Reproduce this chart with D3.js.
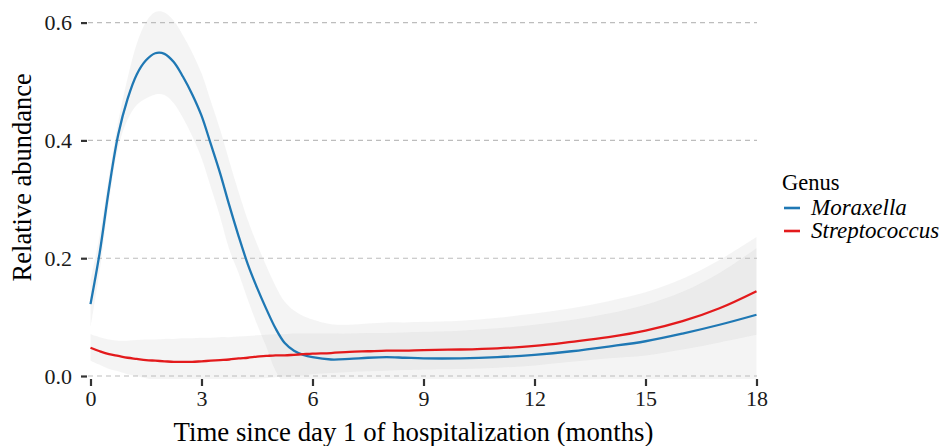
<!DOCTYPE html>
<html>
<head>
<meta charset="utf-8">
<script src="https://cdn.jsdelivr.net/npm/d3@7"></script>
<style>
  html, body { margin: 0; padding: 0; background: #fff; }
  svg { display: block; font-family: "Liberation Serif", "Times New Roman", serif; }
  svg text { font-family: "Liberation Serif", "Times New Roman", serif; }
</style>
</head>
<body>
<svg id="chart" width="942" height="446"></svg>
<script>
// ---- data ----
const months = [0,0.25,0.5,0.75,1,1.25,1.5,1.75,2,2.25,2.5,2.75,3,3.25,3.5,3.75,4,4.25,4.5,4.75,5,5.25,5.5,5.75,6,6.5,7,7.5,8,8.5,9,10,11,12,13,14,15,16,17,18];

const moraxellaFit = [0.122,0.21,0.318,0.41,0.47,0.512,0.536,0.548,0.547,0.533,0.508,0.478,0.442,0.394,0.345,0.29,0.238,0.19,0.15,0.114,0.081,0.056,0.043,0.036,0.032,0.028,0.029,0.031,0.032,0.031,0.030,0.030,0.032,0.036,0.042,0.050,0.059,0.072,0.087,0.104];
const moraxellaLow = [0.082,0.18,0.296,0.388,0.435,0.46,0.471,0.478,0.477,0.463,0.438,0.407,0.37,0.321,0.271,0.215,0.175,0.13,0.088,0.05,0.009,-0.014,-0.025,-0.03,-0.032,-0.032,-0.029,-0.027,-0.027,-0.029,-0.032,-0.034,-0.035,-0.034,-0.031,-0.027,-0.024,-0.021,-0.023,-0.028];
const moraxellaHigh = [0.162,0.24,0.34,0.432,0.505,0.564,0.601,0.618,0.617,0.603,0.578,0.549,0.514,0.467,0.419,0.365,0.313,0.265,0.224,0.187,0.153,0.126,0.111,0.102,0.096,0.088,0.087,0.089,0.091,0.091,0.092,0.094,0.099,0.106,0.115,0.127,0.142,0.165,0.197,0.236];

const streptoFit = [0.048,0.042,0.037,0.034,0.031,0.029,0.027,0.026,0.025,0.024,0.024,0.024,0.025,0.026,0.027,0.028,0.030,0.031,0.033,0.034,0.035,0.035,0.036,0.037,0.038,0.039,0.041,0.042,0.043,0.043,0.044,0.045,0.047,0.051,0.058,0.066,0.077,0.093,0.115,0.144];
const streptoLow = [0.026,0.019,0.012,0.008,0.003,0.0,-0.004,-0.007,-0.009,-0.010,-0.011,-0.011,-0.011,-0.010,-0.010,-0.009,-0.008,-0.007,-0.005,-0.004,-0.002,-0.001,0.0,0.001,0.003,0.005,0.007,0.008,0.009,0.010,0.011,0.012,0.014,0.018,0.024,0.030,0.035,0.045,0.057,0.070];
const streptoHigh = [0.071,0.066,0.062,0.060,0.060,0.061,0.062,0.062,0.063,0.063,0.064,0.064,0.065,0.065,0.066,0.066,0.067,0.068,0.069,0.070,0.071,0.071,0.072,0.072,0.072,0.072,0.072,0.073,0.073,0.074,0.075,0.077,0.081,0.087,0.095,0.106,0.121,0.143,0.175,0.217];

const genusNames = ["Moraxella", "Streptococcus"];
const genusColors = ["#1F78B4", "#E31A1C"];
const xTicks = [0, 3, 6, 9, 12, 15, 18];
const yTicks = [0.0, 0.2, 0.4, 0.6];
const xTitle = "Time since day 1 of hospitalization (months)";
const yTitle = "Relative abundance";
const legendTitle = "Genus";

// ---- layout ----
const FONT = "Liberation Serif";
const svg = d3.select("#chart");
const panel = { left: 88, right: 757, top: 8, bottom: 379 };
const x = d3.scaleLinear().domain([0, 18]).range([90.5, 756.5]);
const y = d3.scaleLinear().domain([0, 0.6]).range([376, 22.6]);

const series = [
  { name: genusNames[0], color: genusColors[0], fit: moraxellaFit, lo: moraxellaLow, hi: moraxellaHigh },
  { name: genusNames[1], color: genusColors[1], fit: streptoFit, lo: streptoLow, hi: streptoHigh }
];

svg.append("defs").append("clipPath").attr("id", "clip")
  .append("rect")
  .attr("x", panel.left).attr("y", panel.top)
  .attr("width", panel.right - panel.left).attr("height", panel.bottom - panel.top);

// gridlines
svg.append("g").selectAll("line").data(yTicks).join("line")
  .attr("x1", panel.left).attr("x2", panel.right)
  .attr("y1", d => y(d)).attr("y2", d => y(d))
  .attr("stroke", "#bdbdbd").attr("stroke-width", 1.1)
  .attr("stroke-dasharray", "5,4");

// ribbons
const area = d3.area()
  .x((d, i) => x(months[i]))
  .y0(d => y(d[0])).y1(d => y(d[1]))
  .curve(d3.curveCatmullRom);

const plotG = svg.append("g").attr("clip-path", "url(#clip)");
series.forEach(s => {
  const pts = months.map((m, i) => [s.lo[i], s.hi[i]]);
  plotG.append("path")
    .attr("d", area(pts))
    .attr("fill", "#bebebe")
    .attr("fill-opacity", 0.17);
});

// lines
const line = d3.line()
  .x((d, i) => x(months[i]))
  .y(d => y(d))
  .curve(d3.curveCatmullRom);

series.forEach(s => {
  plotG.append("path")
    .attr("d", line(s.fit))
    .attr("fill", "none")
    .attr("stroke", s.color)
    .attr("stroke-width", 2.3)
    .attr("stroke-linejoin", "round");
});

// axes
const xAxis = d3.axisBottom(x).tickValues(xTicks).tickSize(7).tickPadding(6).tickFormat(d3.format("d"));
const gx = svg.append("g").attr("transform", `translate(0,${panel.bottom})`).call(xAxis)
  .attr("font-family", FONT).attr("font-size", 22);
gx.select(".domain").remove();
gx.selectAll(".tick line").attr("stroke", "#333").attr("stroke-width", 2.2);
gx.selectAll(".tick text").attr("fill", "#1a1a1a").attr("font-size", 22)
  .attr("font-family", FONT).attr("dy", "0.71em").attr("y", 11);

const yAxis = d3.axisLeft(y).tickValues(yTicks).tickSize(6).tickPadding(9).tickFormat(d3.format(".1f"));
const gy = svg.append("g").attr("transform", `translate(${panel.left - 1},0)`).call(yAxis)
  .attr("font-family", FONT).attr("font-size", 22);
gy.select(".domain").remove();
gy.selectAll(".tick line").attr("stroke", "#333").attr("stroke-width", 2.2);
gy.selectAll(".tick text").attr("fill", "#1a1a1a").attr("font-size", 22)
  .attr("font-family", FONT);

// titles
svg.append("text")
  .attr("x", (x(0) + x(18)) / 2 - 10).attr("y", 441)
  .attr("text-anchor", "middle")
  .attr("font-family", FONT)
  .attr("font-size", 26.8).attr("fill", "#000")
  .text(xTitle);

svg.append("text")
  .attr("transform", `translate(31,${(y(0) + y(0.6)) / 2 - 22}) rotate(-90)`)
  .attr("text-anchor", "middle")
  .attr("font-family", FONT)
  .attr("font-size", 26.5).attr("fill", "#000")
  .text(yTitle);

// legend
const lg = svg.append("g").attr("font-family", FONT);
lg.append("text").attr("x", 782).attr("y", 190)
  .attr("font-size", 22.5).attr("fill", "#000").text(legendTitle);
const rows = lg.selectAll("g.row").data(series).join("g").attr("class", "row")
  .attr("transform", (d, i) => `translate(0,${208 + i * 23})`);
rows.append("line").attr("x1", 784).attr("x2", 800).attr("y1", 0).attr("y2", 0)
  .attr("stroke", d => d.color).attr("stroke-width", 2.6);
rows.append("text").attr("x", 811).attr("y", 7)
  .attr("font-size", 23).attr("font-style", "italic").attr("fill", "#000")
  .text(d => d.name);
</script>
</body>
</html>
